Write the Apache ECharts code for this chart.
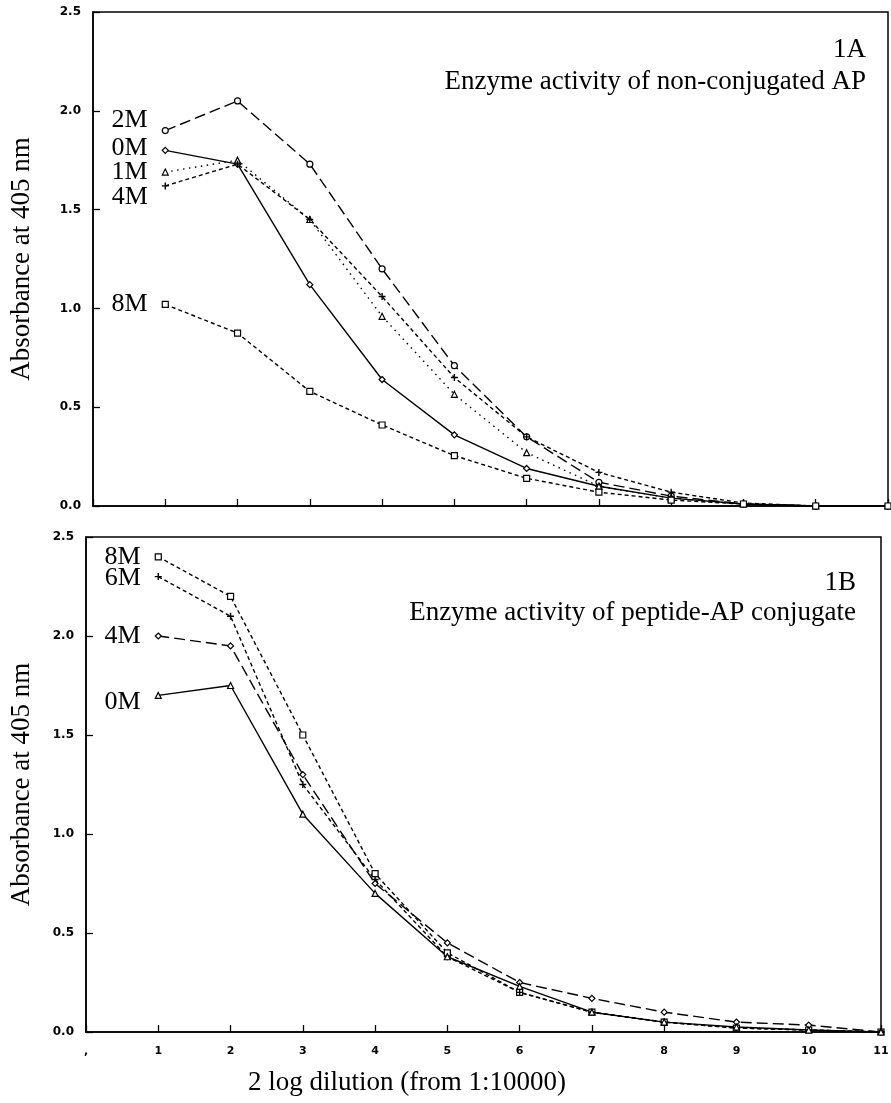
<!DOCTYPE html>
<html style="height: 100%">
<head>
    <meta charset="UTF-8">
    <title>Enzyme activity of AP</title>
    <script src="https://cdn.jsdelivr.net/npm/echarts@6.0.0/dist/echarts.min.js"></script>
    <style>
        #main { width: 891px; height: 1103px; }
    </style>
</head>
<body style="margin: 0; padding: 0; background: #fff;">
    <div id="main"></div>
    <script>
        // dilution steps (2 log, from 1:10000)
        var dilutions = [1, 2, 3, 4, 5, 6, 7, 8, 9, 10, 11];
        var yTicks = [0, 0.5, 1.0, 1.5, 2.0, 2.5];

        // panel 1A: non-conjugated AP
        var a0M = [1.80, 1.73, 1.12, 0.64, 0.36, 0.19, 0.10, 0.04, 0.01, 0, 0];
        var a1M = [1.69, 1.75, 1.45, 0.96, 0.565, 0.27, 0.10, 0.04, 0.01, 0, 0];
        var a2M = [1.90, 2.05, 1.73, 1.20, 0.71, 0.35, 0.12, 0.05, 0.01, 0, 0];
        var a4M = [1.62, 1.73, 1.45, 1.06, 0.65, 0.35, 0.17, 0.07, 0.015, 0, 0];
        var a8M = [1.02, 0.875, 0.58, 0.41, 0.255, 0.14, 0.07, 0.03, 0.01, 0, 0];

        // panel 1B: peptide-AP conjugate
        var b0M = [1.70, 1.75, 1.10, 0.70, 0.38, 0.23, 0.10, 0.05, 0.025, 0.01, 0];
        var b4M = [2.00, 1.95, 1.30, 0.75, 0.45, 0.25, 0.17, 0.10, 0.05, 0.035, 0];
        var b6M = [2.30, 2.10, 1.25, 0.77, 0.38, 0.20, 0.10, 0.05, 0.02, 0.01, 0];
        var b8M = [2.40, 2.20, 1.50, 0.80, 0.40, 0.20, 0.10, 0.05, 0.02, 0.01, 0];

        var serif = 'Liberation Serif';
        var plus = 'path://M4,0L6,0L6,4L10,4L10,6L6,6L6,10L4,10L4,6L0,6L0,4L4,4Z';
        var dash = {
            solid: 'solid',
            longDash: [11, 5],
            shortDash: [4, 3],
            dot: [1.5, 4.5]
        };

        // one curve; the first point carries the concentration label
        function curve(name, values, panel, symbol, lineType, labelDy) {
            var data = values.map(function (v, i) {
                var item = { value: [dilutions[i], v] };
                if (i === 0) {
                    item.label = {
                        show: true,
                        position: 'left',
                        distance: 14,
                        offset: [0, labelDy || 0],
                        formatter: name,
                        fontFamily: serif,
                        fontSize: 26,
                        color: '#000'
                    };
                }
                return item;
            });
            var isPlus = symbol === plus;
            return {
                name: name,
                type: 'line',
                xAxisIndex: panel,
                yAxisIndex: panel,
                data: data,
                symbol: symbol,
                symbolSize: isPlus ? 7 : 6,
                showAllSymbol: true,
                itemStyle: {
                    color: isPlus ? '#000' : '#fff',
                    borderColor: '#000',
                    borderWidth: isPlus ? 0 : 1.2
                },
                lineStyle: { color: '#000', width: 1.4, type: lineType },
                emphasis: { disabled: true },
                z: 3
            };
        }

        function xAxis(panel, withLabels) {
            return {
                type: 'value',
                gridIndex: panel,
                min: 0,
                max: 11,
                interval: 1,
                axisLine: { lineStyle: { color: '#000', width: 1.5 } },
                axisTick: { inside: true, length: 7, lineStyle: { color: '#000', width: 1.3 } },
                splitLine: { show: false },
                axisLabel: {
                    show: withLabels,
                    margin: 14,
                    color: '#000',
                    fontFamily: 'DejaVu Sans',
                    fontWeight: 'bold',
                    fontSize: 11,
                    formatter: function (v) { return v === 0 ? ',' : String(v); }
                }
            };
        }

        function yAxis(panel, gap) {
            return {
                type: 'value',
                gridIndex: panel,
                min: yTicks[0],
                max: yTicks[yTicks.length - 1],
                interval: 0.5,
                name: 'Absorbance at 405 nm',
                nameLocation: 'middle',
                nameRotate: 90,
                nameGap: gap,
                nameTextStyle: { fontFamily: serif, fontSize: 27, color: '#000' },
                axisLine: { lineStyle: { color: '#000', width: 1.5 } },
                axisTick: { inside: true, length: 7, lineStyle: { color: '#000', width: 1.3 } },
                splitLine: { show: false },
                axisLabel: {
                    margin: 12,
                    color: '#000',
                    fontFamily: 'DejaVu Sans',
                    fontWeight: 'bold',
                    fontSize: 12,
                    formatter: function (v) { return v.toFixed(1); }
                }
            };
        }

        function note(text, x, y) {
            return {
                type: 'text',
                x: x,
                y: y,
                style: {
                    text: text,
                    font: '27px "Liberation Serif"',
                    fill: '#000',
                    align: 'right',
                    verticalAlign: 'middle'
                }
            };
        }

        var option = {
            backgroundColor: '#fff',
            animation: false,
            grid: [
                { left: 93, top: 12, width: 795, height: 494, outerBoundsMode: 'none', show: true, borderColor: '#000', borderWidth: 1.5, backgroundColor: 'transparent' },
                { left: 86, top: 537, width: 795, height: 495, outerBoundsMode: 'none', show: true, borderColor: '#000', borderWidth: 1.5, backgroundColor: 'transparent' }
            ],
            xAxis: [xAxis(0, false), xAxis(1, true)],
            yAxis: [yAxis(0, 58), yAxis(1, 51)],
            series: [
                curve('2M', a2M, 0, 'circle', dash.longDash, -10),
                curve('0M', a0M, 0, 'diamond', dash.solid, -2),
                curve('1M', a1M, 0, 'triangle', dash.dot, 0),
                curve('4M', a4M, 0, plus, dash.shortDash, 11),
                curve('8M', a8M, 0, 'rect', dash.shortDash, 0),
                curve('8M', b8M, 1, 'rect', dash.shortDash, 0),
                curve('6M', b6M, 1, plus, dash.shortDash, 2),
                curve('4M', b4M, 1, 'diamond', dash.longDash, 0),
                curve('0M', b0M, 1, 'triangle', dash.solid, 7)
            ],
            graphic: [
                note('1A', 866, 50),
                note('Enzyme activity of non-conjugated AP', 866, 82),
                note('1B', 856, 583),
                note('Enzyme activity of peptide-AP conjugate', 856, 613),
                {
                    type: 'text',
                    x: 248,
                    y: 1083,
                    style: {
                        text: '2 log dilution (from 1:10000)',
                        font: '27px "Liberation Serif"',
                        fill: '#000',
                        verticalAlign: 'middle'
                    }
                }
            ]
        };

        var chart = echarts.init(document.getElementById('main'));
        chart.setOption(option);
    </script>
</body>
</html>
